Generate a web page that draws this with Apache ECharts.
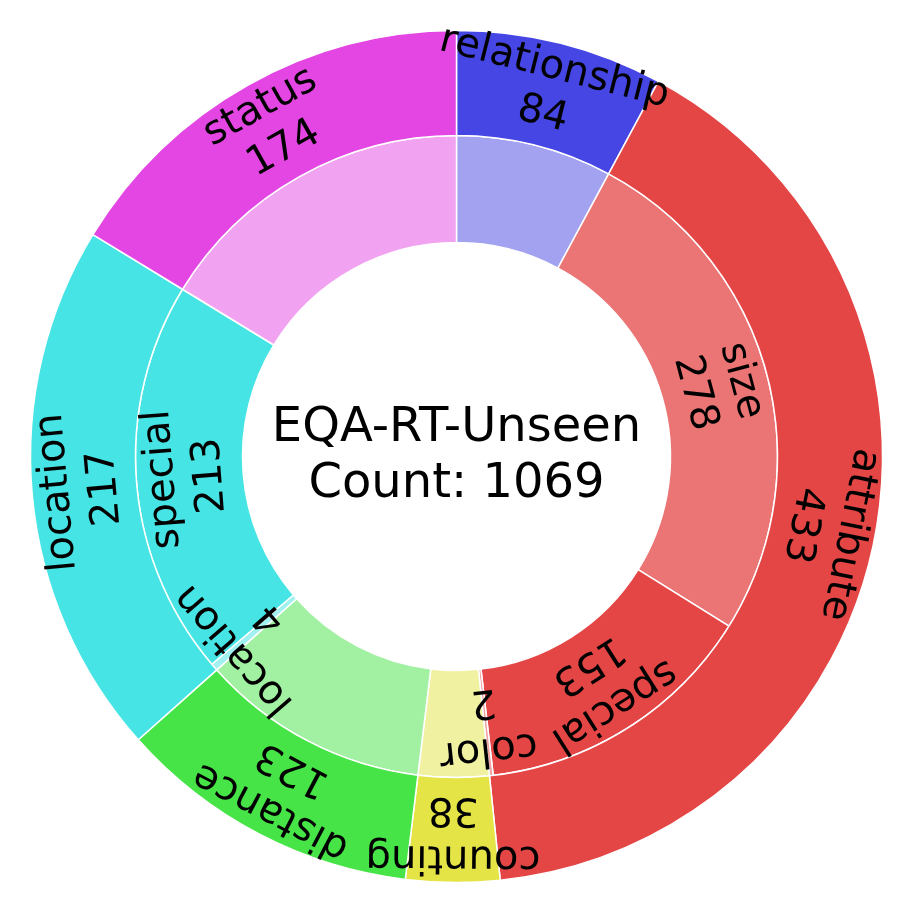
<!DOCTYPE html>
<html>
<head>
<meta charset="utf-8">
<script src="https://cdn.jsdelivr.net/npm/echarts@6/dist/echarts.min.js"></script>
<style>
html, body { margin: 0; padding: 0; background: #fff; }
#main { width: 913px; height: 913px; }
</style>
</head>
<body>
<div id="main"></div>
<script>
var chartTitle = 'EQA-RT-Unseen';

// outer ring: categories
var outerNames = ['relationship', 'attribute', 'counting', 'distance', 'location', 'status'];
var outerValues = [84, 433, 38, 123, 217, 174];
var outerColors = ['#4646e4', '#e44646', '#e4e446', '#46e446', '#46e4e4', '#e446e4'];

// inner ring: sub-categories ('' = no label)
var innerNames = ['', 'size', 'special', 'color', '', '', 'location', 'special', ''];
var innerValues = [84, 278, 153, 2, 38, 123, 4, 213, 174];
var innerColors = ['#a2a2f1', '#eb7474', '#e44646', '#f1a2a2', '#f1f1a2', '#a2f1a2', '#a2f1f1', '#46e4e4', '#f1a2f1'];

var font = 'DejaVu Sans';

function sum(arr) {
    return arr.reduce(function (a, b) { return a + b; }, 0);
}

// rotate each label along the ring, following the slice's middle angle
function buildData(names, values, colors) {
    var total = sum(values);
    var acc = 0;
    return values.map(function (v, i) {
        var mid = (acc + v / 2) / total * 360;
        acc += v;
        return {
            name: names[i],
            value: v,
            itemStyle: { color: colors[i] },
            label: { show: names[i] !== '', rotate: -mid }
        };
    });
}

function ring(name, radius, data) {
    return {
        name: name,
        type: 'pie',
        center: ['50%', '50%'],
        radius: radius,
        startAngle: 90,
        clockwise: true,
        avoidLabelOverlap: false,
        labelLayout: { hideOverlap: false },
        itemStyle: { borderColor: '#fff', borderWidth: 1.5 },
        label: {
            position: 'inside',
            formatter: '{b}\n{c}',
            fontFamily: font,
            fontSize: 40,
            lineHeight: 48,
            color: '#000'
        },
        labelLine: { show: false },
        emphasis: { disabled: true },
        data: data
    };
}

var myChart = echarts.init(document.getElementById('main'));
var option = {
    animation: false,
    graphic: [{
        type: 'text',
        left: 'center',
        top: 'middle',
        style: {
            text: chartTitle + '\nCount: ' + sum(outerValues),
            fontFamily: font,
            fontSize: 48,
            lineHeight: 56,
            textAlign: 'center',
            fill: '#000'
        }
    }],
    series: [
        ring('inner', [214, 321], buildData(innerNames, innerValues, innerColors)),
        ring('outer', [321, 426], buildData(outerNames, outerValues, outerColors))
    ]
};
myChart.setOption(option);
</script>
</body>
</html>
